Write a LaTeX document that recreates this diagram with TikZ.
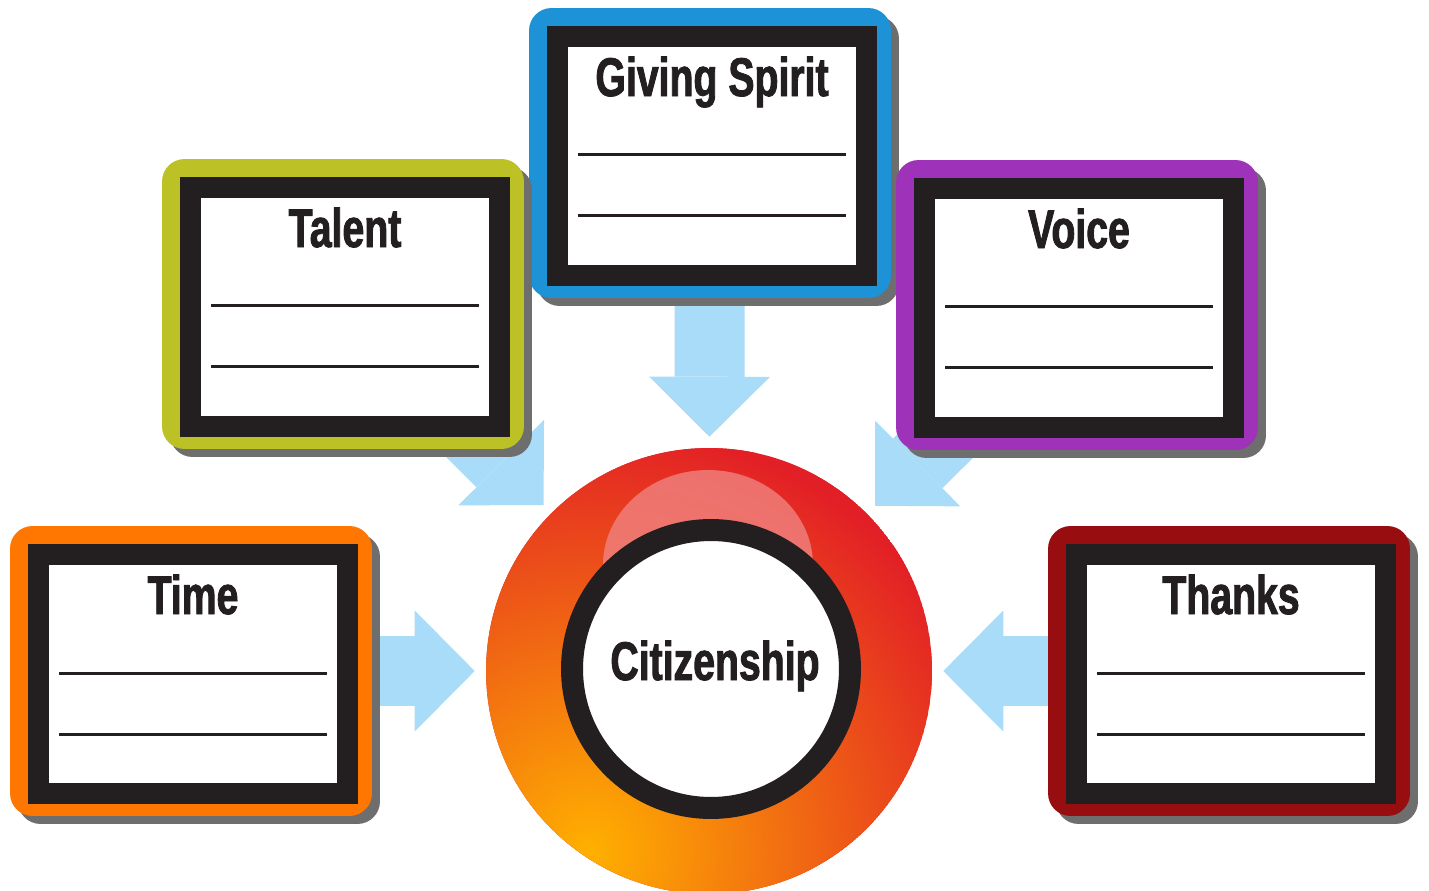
\documentclass[tikz,border=0pt]{standalone}
\usepackage{fontspec}
\usepackage{tikz}
\usetikzlibrary{arrows.meta, positioning, shadows}
\newfontfamily\cardfont[FakeStretch=0.72, FakeBold=1.6]{Liberation Sans}
\definecolor{givingblue}{RGB}{29,146,214}
\definecolor{talentgreen}{RGB}{188,194,38}
\definecolor{voicepurple}{RGB}{158,50,184}
\definecolor{timeorange}{RGB}{255,118,0}
\definecolor{thanksred}{RGB}{152,14,16}
\definecolor{framegray}{RGB}{35,31,32}
\definecolor{shadowgray}{RGB}{110,110,110}
\definecolor{arrowblue}{RGB}{168,220,248}
\definecolor{citizenred}{RGB}{226,30,38}
\definecolor{citizenyellow}{RGB}{255,176,0}
\definecolor{citizenpink}{RGB}{240,130,128}
\pgfdeclarelayer{background}
\pgfsetlayers{background,main}
\tikzset{
  cardbox/.style={rectangle, rounded corners=0.45cm, minimum width=7.24cm, minimum height=5.8cm, inner sep=0pt,
    drop shadow={shadow xshift=0.16cm, shadow yshift=-0.16cm, fill=shadowgray, opacity=1}},
  framebox/.style={rectangle, draw=framegray, line width=0.42cm, fill=white, minimum width=6.18cm, minimum height=4.78cm, inner sep=0pt},
  cardtitle/.style={anchor=base, inner sep=0pt, text=framegray, font=\cardfont\bfseries\fontsize{31}{36}\selectfont},
  writeline/.style={framegray, line width=0.06cm},
  flow/.style={arrowblue, line width=1.4cm, shorten >=0.22cm, -{Triangle[length=1.2cm, width=2.42cm, line width=0pt]}}
}

\begin{document}
\begin{tikzpicture}[x=0.02cm, y=-0.02cm]
        \useasboundingbox (0,0) rectangle (1429,891);

        % Centre circle
        \node[circle, minimum size=8.92cm, inner sep=0pt] (citizen) at (709,671) {};
        \begin{scope}
            \clip (citizen.center) circle (4.46cm);
            \fill[citizenred] (citizen.center) circle (4.46cm);
            \shade[inner color=citizenyellow, outer color=citizenred] (590,850) circle (8.6cm);
            \fill[citizenpink, opacity=0.8] (708,565) ellipse (2.1cm and 1.9cm);
        \end{scope}
        \node[circle, draw=framegray, line width=0.44cm, fill=white, minimum size=5.56cm, inner sep=0pt] (citizenring) at (711,669) {};
        \node[cardtitle] (citizentitle) at (715,680) {Citizenship};

        % Cards
        \node[cardbox, fill=givingblue] (giving) at (710,153) {};
        \node[cardbox, fill=talentgreen] (talent) at (343,304) {};
        \node[cardbox, fill=voicepurple] (voice) at (1077,305) {};
        \node[cardbox, fill=timeorange] (time) at (191,671) {};
        \node[cardbox, fill=thanksred] (thanks) at (1229,671) {};

        % Frames
        \node[framebox] (givingframe) at ([shift={(2,3)}]giving.center) {};
        \node[framebox] (talentframe) at ([shift={(2,3)}]talent.center) {};
        \node[framebox] (voiceframe) at ([shift={(2,3)}]voice.center) {};
        \node[framebox] (timeframe) at ([shift={(2,3)}]time.center) {};
        \node[framebox] (thanksframe) at ([shift={(2,3)}]thanks.center) {};

        % Titles
        \node[cardtitle] (givingtitle) at ([yshift=1.2cm]givingframe.center) {Giving Spirit};
        \node[cardtitle] (talenttitle) at ([yshift=1.2cm]talentframe.center) {Talent};
        \node[cardtitle] (voicetitle) at ([yshift=1.2cm]voiceframe.center) {Voice};
        \node[cardtitle] (timetitle) at ([yshift=1.2cm]timeframe.center) {Time};
        \node[cardtitle] (thankstitle) at ([yshift=1.2cm]thanksframe.center) {Thanks};

        % Writing lines
        \draw[writeline] ([shift={(-134,-1)}]givingframe.center) -- ++(268,0);
        \draw[writeline] ([shift={(-134,60)}]givingframe.center) -- ++(268,0);
        \draw[writeline] ([shift={(-134,-1)}]talentframe.center) -- ++(268,0);
        \draw[writeline] ([shift={(-134,60)}]talentframe.center) -- ++(268,0);
        \draw[writeline] ([shift={(-134,-1)}]voiceframe.center) -- ++(268,0);
        \draw[writeline] ([shift={(-134,60)}]voiceframe.center) -- ++(268,0);
        \draw[writeline] ([shift={(-134,-1)}]timeframe.center) -- ++(268,0);
        \draw[writeline] ([shift={(-134,60)}]timeframe.center) -- ++(268,0);
        \draw[writeline] ([shift={(-134,-1)}]thanksframe.center) -- ++(268,0);
        \draw[writeline] ([shift={(-134,60)}]thanksframe.center) -- ++(268,0);

        % Arrows
        \begin{pgfonlayer}{background}
            \draw[flow] (giving.center) -- (citizen);
            \draw[flow] (talent.center) -- (citizen);
            \draw[flow] (voice.center) -- (citizen);
            \draw[flow] (time.center) -- (citizen);
            \draw[flow] (thanks.center) -- (citizen);
        \end{pgfonlayer}
    \end{tikzpicture}
\end{document}
